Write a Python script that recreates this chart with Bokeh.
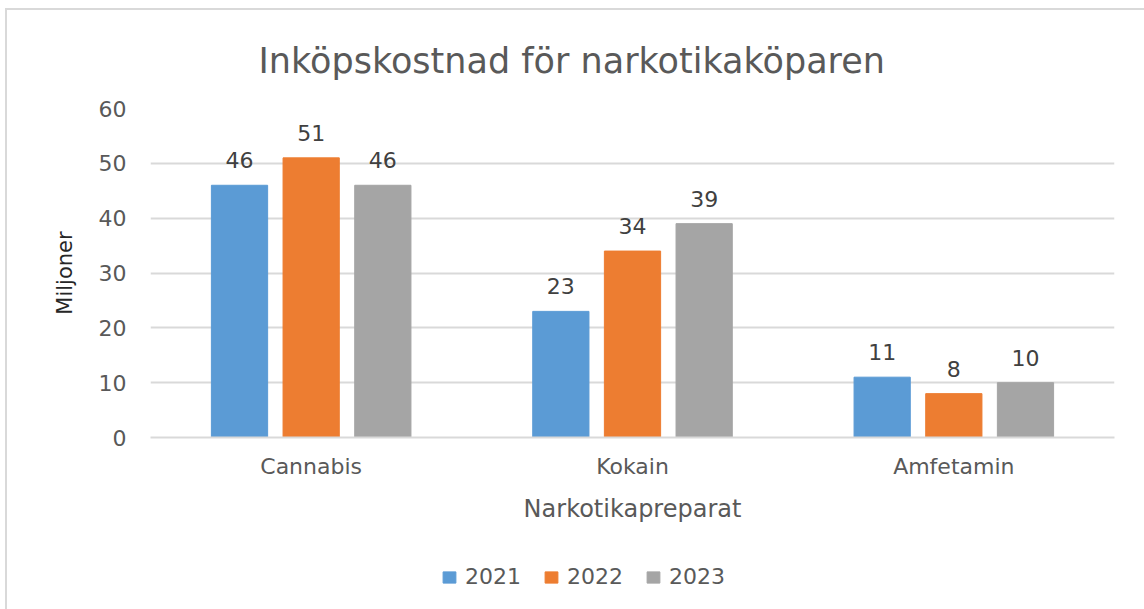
from bokeh.plotting import figure
from bokeh.layouts import column
from bokeh.models import ColumnDataSource, FactorRange, Legend, LegendItem, LabelSet, Title
from bokeh.core.properties import value
from bokeh.transform import dodge
from bokeh.embed import file_html
from bokeh.resources import INLINE

categories = ["Cannabis", "Kokain", "Amfetamin"]
years = ["2021", "2022", "2023"]
v2021 = [46, 23, 11]
v2022 = [51, 34, 8]
v2023 = [46, 39, 10]
y_ticks = [0, 10, 20, 30, 40, 50, 60]

colors = ["#5B9BD5", "#ED7D31", "#A5A5A5"]
FONT = "DejaVu Sans"

src = ColumnDataSource(dict(
    cat=categories,
    y2021=v2021, y2022=v2022, y2023=v2023,
    t2021=[str(v) for v in v2021],
    t2022=[str(v) for v in v2022],
    t2023=[str(v) for v in v2023],
))

p = figure(
    x_range=FactorRange(*categories, range_padding=0),
    y_range=(0, 60),
    width=1137, height=522,
    output_backend="svg", toolbar_location=None,
    min_border_left=143, min_border_right=30,
    min_border_top=98, min_border_bottom=95,
)
p.outline_line_color = None

p.title = Title(text="Inköpskostnad  för narkotikaköparen", align="left", offset=108,
                text_font=FONT, text_font_size="35px", text_font_style="normal",
                text_color="#595959", standoff=56)

offsets = [-0.223, 0.0, 0.223]
for k, off, c in zip(years, offsets, colors):
    p.vbar(x=dodge("cat", off, range=p.x_range), top="y" + k, width=0.175,
           source=src, fill_color=c, line_color=c)
    lab = LabelSet(x=dodge("cat", off, range=p.x_range), y="y" + k, text="t" + k,
                   source=src, text_align="center", text_baseline="alphabetic",
                   y_offset=17, text_font=value(FONT), text_font_size=value("22px"),
                   text_color="#404040")
    p.add_layout(lab)

# y axis
p.yaxis.ticker = y_ticks
p.yaxis.axis_line_color = None
p.yaxis.major_tick_line_color = None
p.yaxis.minor_tick_line_color = None
p.yaxis.major_label_text_font = FONT
p.yaxis.major_label_text_font_size = "22px"
p.yaxis.major_label_text_color = "#595959"
p.yaxis.major_label_standoff = 18
p.yaxis.axis_label = "Miljoner"
p.yaxis.axis_label_text_font = FONT
p.yaxis.axis_label_text_font_size = "21px"
p.yaxis.axis_label_text_font_style = "normal"
p.yaxis.axis_label_text_color = "#262626"
p.yaxis.axis_label_standoff = 19

# x axis
p.xaxis.axis_line_color = "#d9d9d9"
p.xaxis.axis_line_width = 2
p.xaxis.major_tick_line_color = None
p.xaxis.minor_tick_line_color = None
p.xaxis.major_label_text_font = FONT
p.xaxis.major_label_text_font_size = "22px"
p.xaxis.major_label_text_color = "#595959"
p.xaxis.major_label_standoff = 10
p.xaxis.axis_label = "Narkotikapreparat"
p.xaxis.axis_label_text_font = FONT
p.xaxis.axis_label_text_font_size = "24px"
p.xaxis.axis_label_text_font_style = "normal"
p.xaxis.axis_label_text_color = "#595959"
p.xaxis.axis_label_standoff = 13

p.xgrid.grid_line_color = None
p.ygrid.grid_line_color = "#d9d9d9"
p.ygrid.grid_line_width = 2

# legend strip below the chart (legend-only swatch glyphs kept outside the visible range)
lg = figure(width=1137, height=77, output_backend="svg", toolbar_location=None,
            x_range=(0, 1), y_range=(0, 1), min_border=0)
lg.axis.visible = False
lg.grid.visible = False
lg.outline_line_color = None
items = []
for k, c in zip(years, colors):
    r = lg.vbar(x=[-5], top=[-5], bottom=[-6], width=0.1, fill_color=c, line_color=c)
    items.append(LegendItem(label=k, renderers=[r]))
legend = Legend(items=items, orientation="horizontal", location=(291, 20),
                glyph_width=16, glyph_height=14, label_text_font=FONT,
                label_text_font_size="22px", label_text_color="#595959",
                spacing=22, padding=0, margin=0, border_line_color=None,
                background_fill_alpha=0, label_standoff=8)
lg.add_layout(legend, "center")

layout = column(p, lg, spacing=0,
                styles={"border-left": "2px solid #d9d9d9", "border-top": "2px solid #d9d9d9",
                        "margin-left": "5px", "margin-top": "8px"})

open("out.html", "w").write(file_html(layout, INLINE))
